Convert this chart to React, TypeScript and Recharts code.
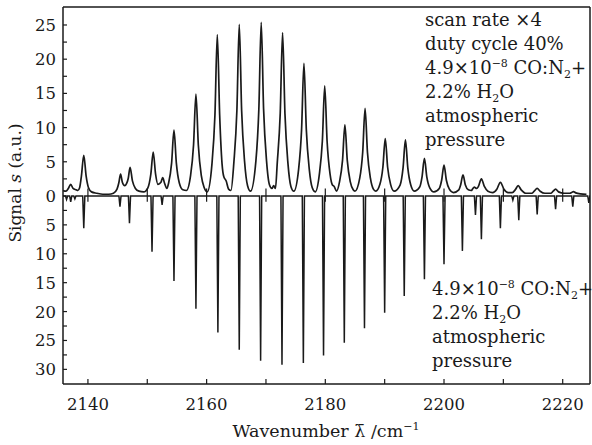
import React from "react";
import { LineChart, Line, XAxis, YAxis, ReferenceLine } from "recharts";

// ---------- data ----------
const X_DOMAIN: [number, number] = [2135.8, 2224.6];
const X_TICKS = [2140, 2150, 2160, 2170, 2180, 2190, 2200, 2210, 2220];
const X_LABELED = [2140, 2160, 2180, 2200, 2220];

// lower panel drawn with a smaller vertical scale (units of lower / units of upper)
const LOWER_SCALE = 0.845;
const Y_TOP = 27.63;
const Y_BOTTOM = -27.49;

const yLabelsUpper = [0, 5, 10, 15, 20, 25];
const yMinorUpper = [2.5, 7.5, 12.5, 17.5, 22.5];
const yLabelsLower = [5, 10, 15, 20, 25, 30];
const yMinorLower = [2.5, 7.5, 12.5, 17.5, 22.5, 27.5];

// upper trace: scan rate x4, duty cycle 40% (wavenumber, signal)
const upperTrace: [number, number][] = [
  [2135.8, 0.8], [2136.3, 0.7], [2136.7, 1.1], [2137.1, 1.7], [2137.5, 1.1], [2138.0, 0.9], [2138.3, 0.8],
  [2138.6, 1.2], [2138.9, 2.9], [2139.3, 5.95], [2139.7, 2.9], [2140.1, 1.2], [2140.6, 0.6], [2141.5, 0.4],
  [2142.5, 0.25], [2143.5, 0.25], [2144.3, 0.4],
  [2144.9, 1.0], [2145.2, 1.9], [2145.5, 3.2], [2145.8, 2.0], [2146.2, 1.5],
  [2146.5, 1.8], [2146.8, 2.6], [2147.1, 4.2], [2147.5, 2.2], [2148.0, 1.1], [2148.6, 0.7], [2149.4, 0.6],
  [2150.1, 1.2], [2150.6, 3.2], [2151.0, 6.4], [2151.4, 3.2], [2151.8, 1.7],
  [2152.3, 2.0], [2152.6, 2.7], [2152.9, 1.9], [2153.3, 1.1],
  [2153.6, 1.9], [2154.1, 4.8], [2154.5, 9.65], [2154.9, 4.8], [2155.4, 1.9], [2156.0, 0.9], [2156.6, 0.8],
  [2157.3, 3.0], [2157.8, 7.5], [2158.2, 14.9], [2158.6, 7.5], [2159.1, 3.0], [2159.6, 1.2], [2160.1, 0.6],
  [2160.9, 4.7], [2161.4, 11.8], [2161.8, 23.6], [2162.2, 11.8], [2162.6, 4.7], [2162.9, 2.8], [2163.3, 2.2], [2163.7, 1.0], [2164.1, 0.8],
  [2164.6, 5.0], [2165.1, 12.5], [2165.5, 25.1], [2165.9, 12.5], [2166.4, 5.0], [2166.9, 1.5], [2167.4, 0.7],
  [2168.3, 5.1], [2168.8, 12.7], [2169.2, 25.4], [2169.6, 12.7], [2170.1, 5.1], [2170.6, 1.6], [2171.0, 1.1], [2171.3, 1.5], [2171.6, 1.1],
  [2171.9, 4.8], [2172.4, 12.0], [2172.8, 23.9], [2173.2, 12.0], [2173.7, 4.8], [2174.2, 1.4], [2174.7, 0.7],
  [2175.5, 3.9], [2176.0, 9.7], [2176.4, 19.4], [2176.8, 9.7], [2177.3, 3.9], [2177.8, 1.2], [2178.3, 0.6],
  [2179.0, 3.2], [2179.5, 8.0], [2179.9, 16.1], [2180.3, 8.0], [2180.8, 3.2], [2181.2, 1.6], [2181.5, 1.4], [2181.9, 0.7],
  [2182.4, 2.1], [2182.9, 5.2], [2183.3, 10.4], [2183.7, 5.2], [2184.2, 2.1], [2184.7, 0.9], [2185.0, 0.7],
  [2185.8, 2.6], [2186.3, 6.4], [2186.7, 12.8], [2187.1, 6.4], [2187.6, 2.6], [2188.1, 1.0], [2188.5, 0.7],
  [2189.2, 1.7], [2189.7, 4.2], [2190.1, 8.4], [2190.5, 4.2], [2191.0, 1.7], [2191.6, 0.7],
  [2192.6, 1.6], [2193.1, 4.1], [2193.5, 8.2], [2193.9, 4.1], [2194.4, 1.6], [2195.0, 0.7],
  [2195.9, 1.3], [2196.3, 2.8], [2196.7, 5.5], [2197.1, 2.8], [2197.6, 1.2], [2198.3, 0.6],
  [2199.2, 1.1], [2199.6, 2.3], [2200.0, 4.5], [2200.4, 2.3], [2200.9, 1.0], [2201.6, 0.5],
  [2202.5, 0.9], [2202.8, 1.6], [2203.2, 3.1], [2203.6, 1.6], [2204.1, 0.9], [2204.6, 0.8],
  [2204.8, 1.0], [2205.1, 1.3], [2205.5, 1.1],
  [2205.8, 1.4], [2206.3, 2.5], [2206.8, 1.4], [2207.4, 0.7], [2208.2, 0.5],
  [2208.9, 1.0], [2209.5, 2.0], [2210.1, 1.0], [2210.8, 0.5], [2211.5, 0.5],
  [2212.0, 0.9], [2212.5, 1.5], [2213.0, 0.9], [2213.8, 0.4], [2214.8, 0.4],
  [2215.2, 0.7], [2215.7, 1.1], [2216.2, 0.7], [2217.0, 0.4], [2218.0, 0.4],
  [2218.4, 0.7], [2218.8, 1.0], [2219.3, 0.6], [2220.2, 0.4], [2221.2, 0.4],
  [2221.5, 0.5], [2221.8, 0.65], [2222.2, 0.45], [2223.0, 0.3], [2224.0, 0.25],
];

// lower trace: line positions and depths (lower-panel units)
const lowerLineX = [
  2136.4, 2137.1, 2137.8, 2139.3, 2145.4, 2147.0, 2150.8, 2152.5, 2154.5, 2158.2, 2161.9, 2165.5,
  2169.1, 2172.7, 2176.3, 2179.7, 2183.2, 2186.6, 2190.0, 2193.3, 2196.7, 2200.0, 2203.1, 2205.3,
  2206.3, 2209.5, 2211.6, 2212.6, 2215.7, 2218.8, 2221.7, 2224.4,
];
const lowerLineDepth = [
  0.6, 1.0, 0.5, 5.6, 1.85, 4.7, 9.65, 1.56, 14.7, 19.5, 23.6, 26.6,
  28.5, 29.2, 28.9, 27.6, 25.4, 22.9, 20.2, 17.3, 14.4, 11.8, 9.5, 3.3,
  7.5, 5.6, 0.7, 4.2, 3.2, 2.3, 1.85, 1.2,
];

// ---------- tables built from the data ----------
const upperData = upperTrace.map(([x, y]) => ({ x, y }));

const lowerData: { x: number; y: number }[] = [{ x: X_DOMAIN[0], y: 0 }];
lowerLineX.forEach((c, i) => {
  lowerData.push({ x: c - 0.18, y: 0 });
  lowerData.push({ x: c, y: -lowerLineDepth[i] * LOWER_SCALE });
  lowerData.push({ x: c + 0.18, y: 0 });
});
lowerData.push({ x: X_DOMAIN[1], y: 0 });

const yTickLabel = new Map<number, string>();
yLabelsUpper.forEach((v) => yTickLabel.set(v, String(v)));
yMinorUpper.forEach((v) => yTickLabel.set(v, ""));
yLabelsLower.forEach((v) => yTickLabel.set(-v * LOWER_SCALE, String(v)));
yMinorLower.forEach((v) => yTickLabel.set(-v * LOWER_SCALE, ""));
const Y_TICKS = Array.from(yTickLabel.keys()).sort((a, b) => a - b);

const FONT = "'DejaVu Serif', serif";
const INK = "#1a1a1a";

const XTick = (props: any) => {
  const { x, y, payload } = props;
  const labeled = X_LABELED.includes(payload.value);
  return (
    <g>
      <line x1={x} y1={y} x2={x} y2={y - 5} stroke={INK} strokeWidth={1.2} />
      {labeled && (
        <text x={x} y={y + 26} textAnchor="middle" fontFamily={FONT} fontSize={16.5} fill={INK}>
          {payload.value}
        </text>
      )}
    </g>
  );
};

const YTick = (props: any) => {
  const { x, y, payload } = props;
  const label = yTickLabel.get(payload.value) ?? "";
  return (
    <g>
      <line x1={x} y1={y} x2={x + 4} y2={y} stroke={INK} strokeWidth={1.2} />
      {label !== "" && (
        <text x={x - 7} y={y} dy="0.36em" textAnchor="end" fontFamily={FONT} fontSize={16.5} fill={INK}>
          {label}
        </text>
      )}
    </g>
  );
};

const Annotation = ({ x, y, lines }: { x: number; y: number; lines: React.ReactNode[] }) => (
  <text x={x} y={y} fontFamily={FONT} fontSize={18} fill={INK}>
    {lines.map((l, i) => (
      <tspan key={i} x={x} dy={i === 0 ? 0 : 24}>
        {l}
      </tspan>
    ))}
  </text>
);

const concLine = (
  <>
    4.9×10
    <tspan fontSize={11} dy={-7}>−8</tspan>
    <tspan dy={7}> CO:N</tspan>
    <tspan fontSize={11} dy={4}>2</tspan>
    <tspan dy={-4}>+</tspan>
  </>
);
const waterLine = (
  <>
    2.2% H
    <tspan fontSize={11} dy={4}>2</tspan>
    <tspan dy={-4}>O</tspan>
  </>
);

export default function App() {
  return (
    <div style={{ position: "absolute", left: 0, top: 0, width: 592, height: 445, background: "#fff" }}>
      <LineChart width={592} height={445} margin={{ top: 7, right: 2, bottom: 0, left: 0 }}>
        <XAxis
          type="number"
          dataKey="x"
          domain={X_DOMAIN}
          allowDataOverflow
          ticks={X_TICKS}
          interval={0}
          tickSize={0}
          tickMargin={0}
          height={61}
          axisLine={{ stroke: INK, strokeWidth: 1.5 }}
          tickLine={false}
          tick={<XTick />}
        />
        <YAxis
          type="number"
          domain={[Y_BOTTOM, Y_TOP]}
          allowDataOverflow
          ticks={Y_TICKS}
          interval={0}
          tickSize={0}
          tickMargin={0}
          width={63}
          axisLine={{ stroke: INK, strokeWidth: 1.5 }}
          tickLine={false}
          tick={<YTick />}
        />
        <ReferenceLine y={Y_TOP} stroke={INK} strokeWidth={1.5} />
        <ReferenceLine x={X_DOMAIN[1]} stroke={INK} strokeWidth={1.5} />
        {X_TICKS.map((t) => (
          <ReferenceLine
            key={t}
            segment={[
              { x: t, y: 1.1 },
              { x: t, y: -0.85 },
            ]}
            stroke={INK}
            strokeWidth={1.2}
          />
        ))}
        <Line
          data={lowerData}
          dataKey="y"
          type="linear"
          stroke={INK}
          strokeWidth={1.5}
          dot={false}
          isAnimationActive={false}
        />
        <Line
          data={upperData}
          dataKey="y"
          type="monotone"
          stroke={INK}
          strokeWidth={1.7}
          dot={false}
          isAnimationActive={false}
        />
      </LineChart>
      <svg
        width={592}
        height={445}
        style={{ position: "absolute", left: 0, top: 0, pointerEvents: "none" }}
      >
        <text
          transform="translate(21,183) rotate(-90)"
          textAnchor="middle"
          fontFamily={FONT}
          fontSize={17}
          fill={INK}
        >
          Signal <tspan fontStyle="italic">s</tspan> (a.u.)
        </text>
        <text x={326} y={437} textAnchor="middle" fontFamily={FONT} fontSize={17.5} fill={INK}>
          Wavenumber λ̄ /cm
          <tspan fontSize={11} dy={-7}>−1</tspan>
        </text>
        <Annotation
          x={425}
          y={26}
          lines={["scan rate ×4", "duty cycle 40%", concLine, waterLine, "atmospheric", "pressure"]}
        />
        <Annotation x={432} y={295} lines={[concLine, waterLine, "atmospheric", "pressure"]} />
      </svg>
    </div>
  );
}
